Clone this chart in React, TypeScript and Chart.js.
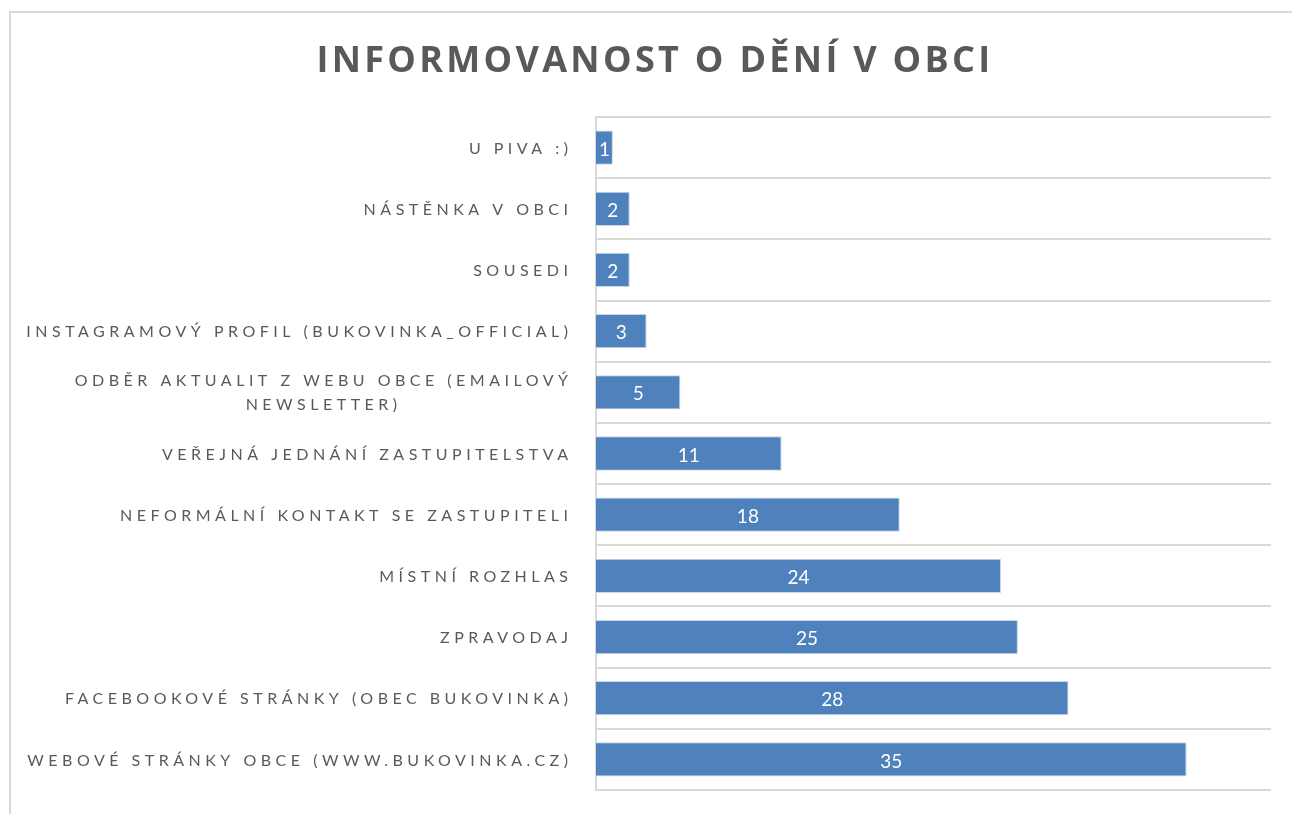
import React, { useEffect, useRef } from "react";
import { Chart, registerables } from "chart.js";

Chart.register(...registerables);

const TITLE = "INFORMOVANOST O DĚNÍ V OBCI";
const categories: (string | string[])[] = [
  "U PIVA :)",
  "NÁSTĚNKA V OBCI",
  "SOUSEDI",
  "INSTAGRAMOVÝ PROFIL (BUKOVINKA_OFFICIAL)",
  ["ODBĚR AKTUALIT Z WEBU OBCE (EMAILOVÝ", "NEWSLETTER)"],
  "VEŘEJNÁ JEDNÁNÍ ZASTUPITELSTVA",
  "NEFORMÁLNÍ KONTAKT SE ZASTUPITELI",
  "MÍSTNÍ ROZHLAS",
  "ZPRAVODAJ",
  "FACEBOOKOVÉ STRÁNKY (OBEC BUKOVINKA)",
  "WEBOVÉ STRÁNKY OBCE (WWW.BUKOVINKA.CZ)",
];
const values = [1, 2, 2, 3, 5, 11, 18, 24, 25, 28, 35];
const X_MAX = 40;

const W = 1292;
const H = 814;
const LABEL_SPACING = 4.5;

const customDraw = {
  id: "customDraw",
  afterDraw(chart: any) {
    const ctx = chart.ctx as CanvasRenderingContext2D;
    const yScale = chart.scales.y;
    const area = chart.chartArea;
    ctx.save();
    // Title
    ctx.fillStyle = "#595959";
    ctx.font = 'bold 36px "Open Sans"';
    (ctx as any).letterSpacing = "3.3px";
    ctx.textAlign = "center";
    ctx.textBaseline = "middle";
    ctx.fillText(TITLE, 655, 62);

    // Category labels
    ctx.font = '16px "Lato"';
    (ctx as any).letterSpacing = LABEL_SPACING + "px";
    ctx.textAlign = "left";
    const rightX = area.left - 28;
    const lineH = 24;
    categories.forEach((cat, i) => {
      const lines = Array.isArray(cat) ? cat : [cat];
      const cy = yScale.getPixelForValue(i);
      const widths = lines.map((l) => ctx.measureText(l).width - LABEL_SPACING);
      const blockW = Math.max(...widths);
      const startY = cy - ((lines.length - 1) * lineH) / 2;
      lines.forEach((l, j) => {
        const x = rightX - blockW + (blockW - widths[j]) / 2;
        ctx.fillText(l, x, startY + j * lineH + 1);
      });
    });

    // Data labels
    const meta = chart.getDatasetMeta(0);
    ctx.font = '19px "Lato"';
    (ctx as any).letterSpacing = "0px";
    ctx.fillStyle = "#ffffff";
    ctx.textAlign = "center";
    meta.data.forEach((bar: any, i: number) => {
      const x = (bar.base + bar.x) / 2;
      ctx.fillText(String(values[i]), x, bar.y + 2);
    });
    ctx.restore();
  },
};

export default function App() {
  const ref = useRef<HTMLCanvasElement>(null);
  useEffect(() => {
    if (!ref.current) return;
    const chart = new Chart(ref.current, {
      type: "bar",
      data: {
        labels: categories as any,
        datasets: [
          {
            data: values,
            backgroundColor: "#4F81BD",
            borderColor: "#c9d7ea",
            borderWidth: 1,
            barPercentage: 0.56,
            categoryPercentage: 1,
          },
        ],
      },
      options: {
        indexAxis: "y",
        animation: false,
        responsive: false,
        maintainAspectRatio: false,
        layout: { padding: { left: 596, top: 117, right: 21, bottom: 24 } },
        plugins: { legend: { display: false }, tooltip: { enabled: false }, title: { display: false } },
        scales: {
          x: {
            display: false,
            min: 0,
            max: X_MAX,
          },
          y: {
            display: true,
            ticks: { display: false },
            grid: { color: "#d9d9d9", lineWidth: 2, drawTicks: false, tickLength: 0, offset: true },
            border: { display: true, color: "#d9d9d9", width: 2 },
          },
        },
      },
      plugins: [customDraw],
    });
    return () => chart.destroy();
  }, []);
  return (
    <div style={{ position: "absolute", left: 0, top: 0, width: W, height: H, overflow: "hidden", background: "#fff" }}>
      <div
        style={{
          position: "absolute",
          left: 9,
          top: 11,
          width: 1300,
          height: 900,
          border: "2px solid #d9d9d9",
          boxSizing: "border-box",
        }}
      />
      <canvas ref={ref} width={W} height={H} style={{ position: "absolute", left: 0, top: 0 }} />
    </div>
  );
}
